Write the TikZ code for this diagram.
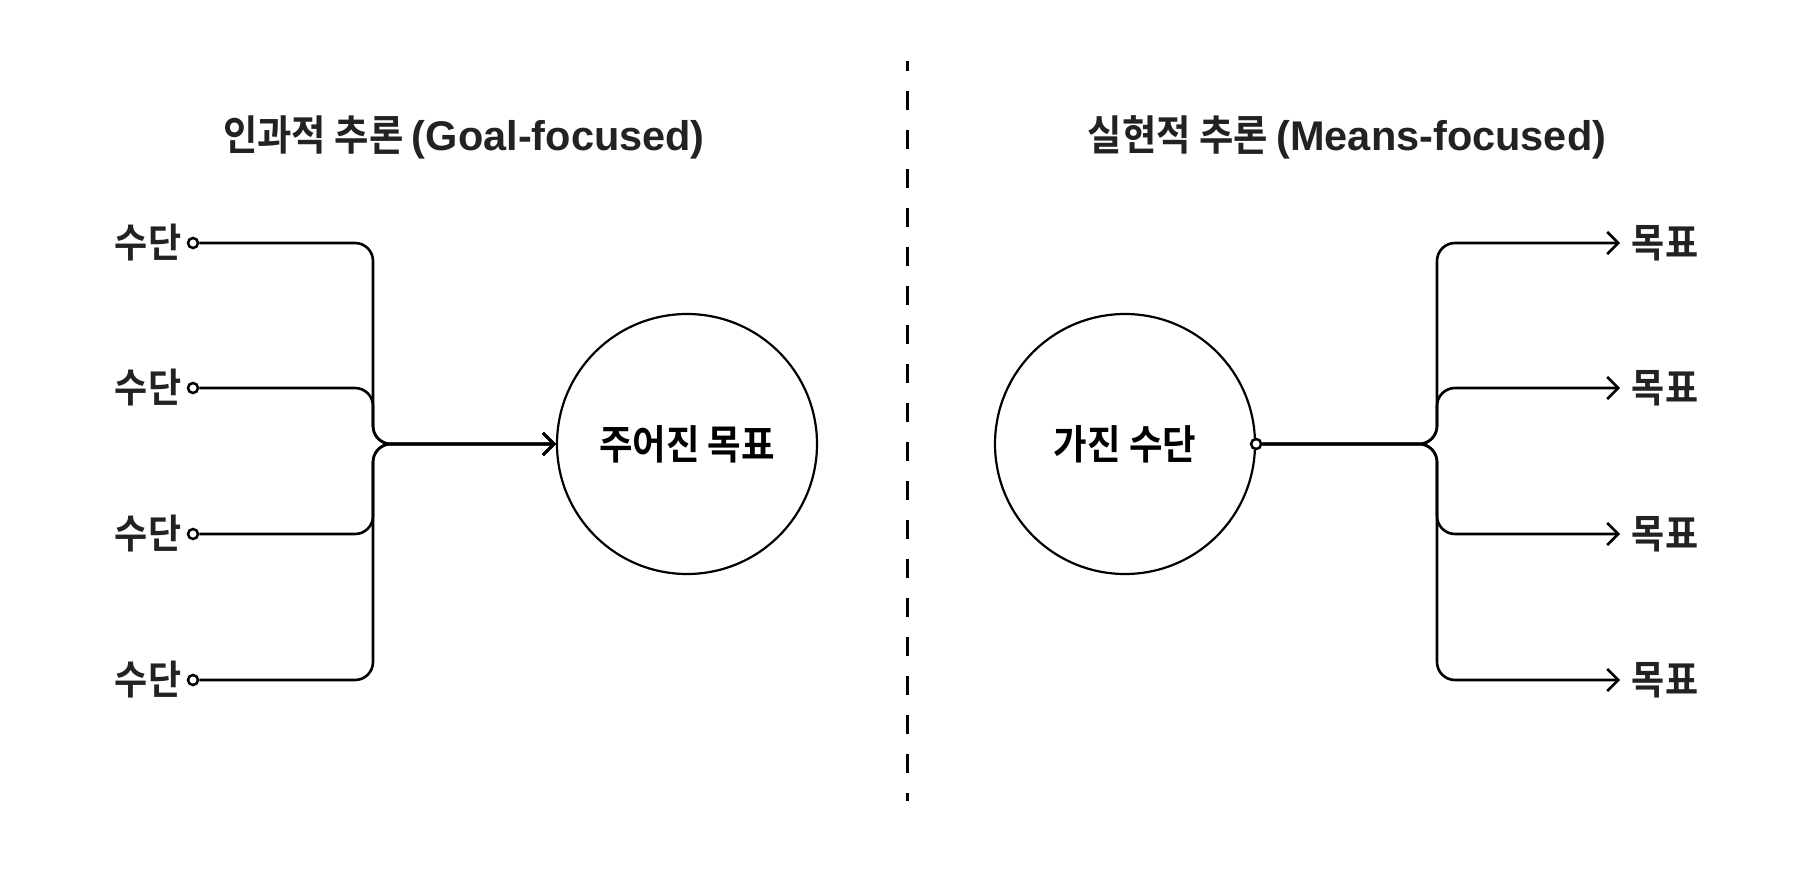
\documentclass[tikz,border=0pt]{standalone}
\usepackage{fontspec}
\newfontfamily\kr{Noto Sans CJK KR Bold}[FakeStretch=0.9]
\newfontfamily\lat{Liberation Sans}
\usetikzlibrary{arrows.meta}
\definecolor{txt}{HTML}{222222}
\begin{document}
\begin{tikzpicture}[x=1pt,y=-1pt,
  wire/.style={line width=2.6pt, rounded corners=18pt},
  tipped/.style={-{Straight Barb[length=11pt,width=22pt]}},
  port/.style={circle, draw, fill=white, line width=2.5pt, inner sep=0pt, minimum size=10pt},
  bigc/.style={circle, draw, line width=2.2pt, minimum size=260pt, inner sep=0pt, font=\kr\fontsize{40.5}{44}\selectfont, text=black},
  lab/.style={font=\kr\fontsize{40}{44}\selectfont, text=txt, inner sep=0pt, anchor=base},
  heading/.style={font=\kr\fontsize{41.5}{46}\selectfont, text=txt, inner sep=0pt, anchor=base},
  divider/.style={line width=3pt, dash pattern=on 19pt off 20pt, dash phase=9pt}]
\useasboundingbox (0,0) rectangle (1813,894);
\fill[white] (0,0) rectangle (1813,894);

% titles
\node[heading] (tl) at (464,150) {인과적 추론 {\lat\bfseries (Goal-focused)}};
\node[heading] (tr) at (1347,150) {실현적 추론 {\lat\bfseries (Means-focused)}};

% divider
\coordinate (dtop) at (907,61);
\coordinate (dbot) at (907,801);
\draw[divider] (dtop) -- (dbot);

% left side
\node[bigc] (goal) at (687,444) {주어진 목표};
\coordinate (jl) at (373,444);
\foreach \i/\y in {1/243,2/388,3/534,4/680}{
  \node[lab] (s\i) at (148,\y+14) {수단};
  \node[port] (d\i) at (193,\y) {};
  \draw[wire,tipped] (d\i.east) -| (jl) -- (goal.west);
}

% right side
\node[bigc] (mean) at (1125,444) {가진 수단};
\node[port] (rd) at (mean.east) {};
\coordinate (jr) at (1437,444);
\foreach \i/\y in {1/243,2/388,3/534,4/680}{
  \coordinate (t\i) at (1620,\y);
  \node[lab] (g\i) at (1665,\y+14) {목표};
  \draw[wire,tipped] (rd.east) -- (jr) |- (t\i);
}
\end{tikzpicture}
\end{document}
